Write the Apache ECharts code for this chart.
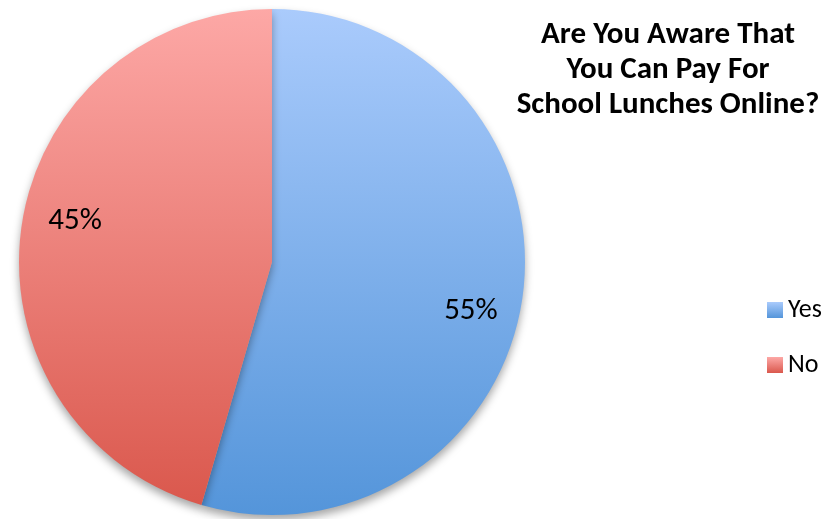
<!DOCTYPE html>
<html><head><meta charset="utf-8">
<script src="https://cdn.jsdelivr.net/npm/echarts@6/dist/echarts.min.js"></script>
<style>html,body{margin:0;padding:0;background:#fff}#c{width:831px;height:519px}</style>
</head><body><div id="c"></div>
<script>
const categories = ['Yes', 'No'];
const values = [54.5, 45.5];
const labels = ['55%', '45%'];
const titleText = 'Are You Aware That\nYou Can Pay For\nSchool Lunches Online?';

const grads = [
  ['#aacbfc', '#5495da'],
  ['#fda8a6', '#da584d']
];
const labelOffsets = [[-5, 20], [7, -12]];
function grad(i) {
  return new echarts.graphic.LinearGradient(0, 0, 0, 1, [
    { offset: 0, color: grads[i][0] },
    { offset: 1, color: grads[i][1] }
  ]);
}
const chart = echarts.init(document.getElementById('c'), null, { renderer: 'canvas' });
const font = 'Carlito, "Open Sans", "Liberation Sans", sans-serif';
chart.setOption({
  animation: false,
  title: {
    text: titleText,
    left: 668, top: 18, textAlign: 'center', padding: 0,
    textStyle: { fontFamily: font, fontWeight: 'bold', fontSize: 31, lineHeight: 35, color: '#000' }
  },
  legend: {
    orient: 'vertical', left: 767, top: 297, padding: 0,
    itemWidth: 16, itemHeight: 16, icon: 'rect', itemGap: 29,
    data: categories,
    textStyle: { fontFamily: font, fontSize: 26, lineHeight: 26, color: '#000' }
  },
  series: [
    {
      type: 'pie', center: [272, 262], radius: [0, 253], startAngle: 90, clockwise: true,
      silent: true,
      data: categories.map((c, i) => ({ name: c, value: values[i], itemStyle: { color: grad(i) } })),
      label: { show: false }, labelLine: { show: false },
      itemStyle: { shadowBlur: 8, shadowOffsetY: 5, shadowColor: 'rgba(0,0,0,0.35)' }
    },
    {
      type: 'pie', center: [272, 262], radius: [152, 254], startAngle: 90, clockwise: true,
      silent: true, legendHoverLink: false,
      data: categories.map((c, i) => ({ name: c + '_l', value: values[i], label: { formatter: labels[i], offset: labelOffsets[i] } })),
      itemStyle: { color: 'rgba(0,0,0,0)' },
      label: { show: true, position: 'inside', fontFamily: font, fontSize: 31, color: '#000' },
      labelLine: { show: false }
    }
  ]
});
</script></body></html>
